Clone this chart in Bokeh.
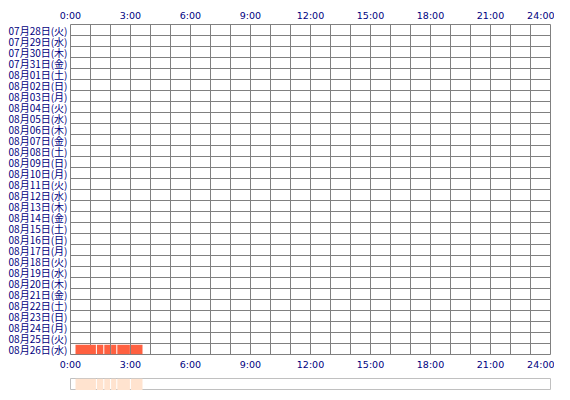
from bokeh.plotting import figure
from bokeh.models import Range1d, FixedTicker, LinearAxis, ColumnDataSource
from bokeh.layouts import column
from bokeh.embed import file_html
from bokeh.resources import INLINE

# ---- data ----
dates = [
    "07月28日(火)", "07月29日(水)", "07月30日(木)", "07月31日(金)",
    "08月01日(土)", "08月02日(日)", "08月03日(月)", "08月04日(火)",
    "08月05日(水)", "08月06日(木)", "08月07日(金)", "08月08日(土)",
    "08月09日(日)", "08月10日(月)", "08月11日(火)", "08月12日(水)",
    "08月13日(木)", "08月14日(金)", "08月15日(土)", "08月16日(日)",
    "08月17日(月)", "08月18日(火)", "08月19日(水)", "08月20日(木)",
    "08月21日(金)", "08月22日(土)", "08月23日(日)", "08月24日(月)",
    "08月25日(火)", "08月26日(水)",
]
hour_ticks = [0, 3, 6, 9, 12, 15, 18, 21, 24]
hour_labels = ["0:00", "3:00", "6:00", "9:00", "12:00", "15:00", "18:00", "21:00", "24:00"]

seg_day = ["08月26日(水)"] * 6
seg_start = [0.25, 1.32, 1.69, 2.03, 2.34, 3.02]
seg_end = [1.27, 1.64, 1.98, 2.29, 2.97, 3.60]

# ---- styles ----
FONT_Y = "Noto Sans CJK JP"
FONT_X = "DejaVu Sans"
TXT = "#000080"
GRID = "#808080"
BAR = "#FF6040"
SUMFILL = "#FFE3CF"
SUMLINE = "#C0C0C0"

n = len(dates)
xr = Range1d(0, 24)

p = figure(frame_width=480, frame_height=330, x_range=xr, y_range=Range1d(n, 0),
           output_backend="svg", toolbar_location=None,
           min_border_left=70, min_border_right=4,
           min_border_top=24, min_border_bottom=16,
           x_axis_location=None, y_axis_location=None)
p.background_fill_color = "white"
p.border_fill_color = "white"
p.outline_line_color = GRID
p.outline_line_width = 1

# grid
p.xgrid.ticker = FixedTicker(ticks=list(range(25)))
p.ygrid.ticker = FixedTicker(ticks=list(range(n + 1)))
for g in (p.xgrid[0], p.ygrid[0]):
    g.grid_line_color = GRID
    g.grid_line_width = 1
    g.grid_line_alpha = 1.0


def style_axis(ax, standoff, font, size):
    ax.axis_line_color = None
    ax.major_tick_line_color = None
    ax.minor_tick_line_color = None
    ax.major_tick_out = 0
    ax.major_tick_in = 0
    ax.minor_tick_out = 0
    ax.minor_tick_in = 0
    ax.major_label_text_font = font
    ax.major_label_text_font_size = size
    ax.major_label_text_color = TXT
    ax.major_label_standoff = standoff


for loc, so in (("above", 4), ("below", 4)):
    ax = LinearAxis(ticker=FixedTicker(ticks=hour_ticks),
                    major_label_overrides={t: l for t, l in zip(hour_ticks, hour_labels)})
    style_axis(ax, so, FONT_X, "9.5px")
    p.add_layout(ax, loc)

centers = [i + 0.5 for i in range(n)]
yax = LinearAxis(ticker=FixedTicker(ticks=centers),
                 major_label_overrides={c: d for c, d in zip(centers, dates)})
style_axis(yax, 3, FONT_Y, "10px")
p.add_layout(yax, "left")

rows = [dates.index(d) for d in seg_day]
src = ColumnDataSource(dict(left=seg_start, right=seg_end,
                            top=[r + 0.12 for r in rows],
                            bottom=[r + 0.97 for r in rows]))
p.quad(left="left", right="right", top="top", bottom="bottom", source=src,
       fill_color=BAR, line_color=None)

# summary strip
s = figure(frame_width=480, frame_height=12, x_range=xr, y_range=Range1d(0, 1),
           output_backend="svg", toolbar_location=None,
           min_border_left=70, min_border_right=4,
           min_border_top=6, min_border_bottom=0,
           x_axis_location=None, y_axis_location=None)
s.xgrid.visible = False
s.ygrid.visible = False
s.outline_line_color = SUMLINE
s.outline_line_width = 1
s.background_fill_color = "white"
s.border_fill_color = "white"
s.quad(left=seg_start, right=seg_end, top=[1] * len(seg_start), bottom=[0] * len(seg_start),
       fill_color=SUMFILL, line_color=None)

layout = column(p, s, spacing=0)
open("out.html", "w").write(file_html(layout, INLINE))
